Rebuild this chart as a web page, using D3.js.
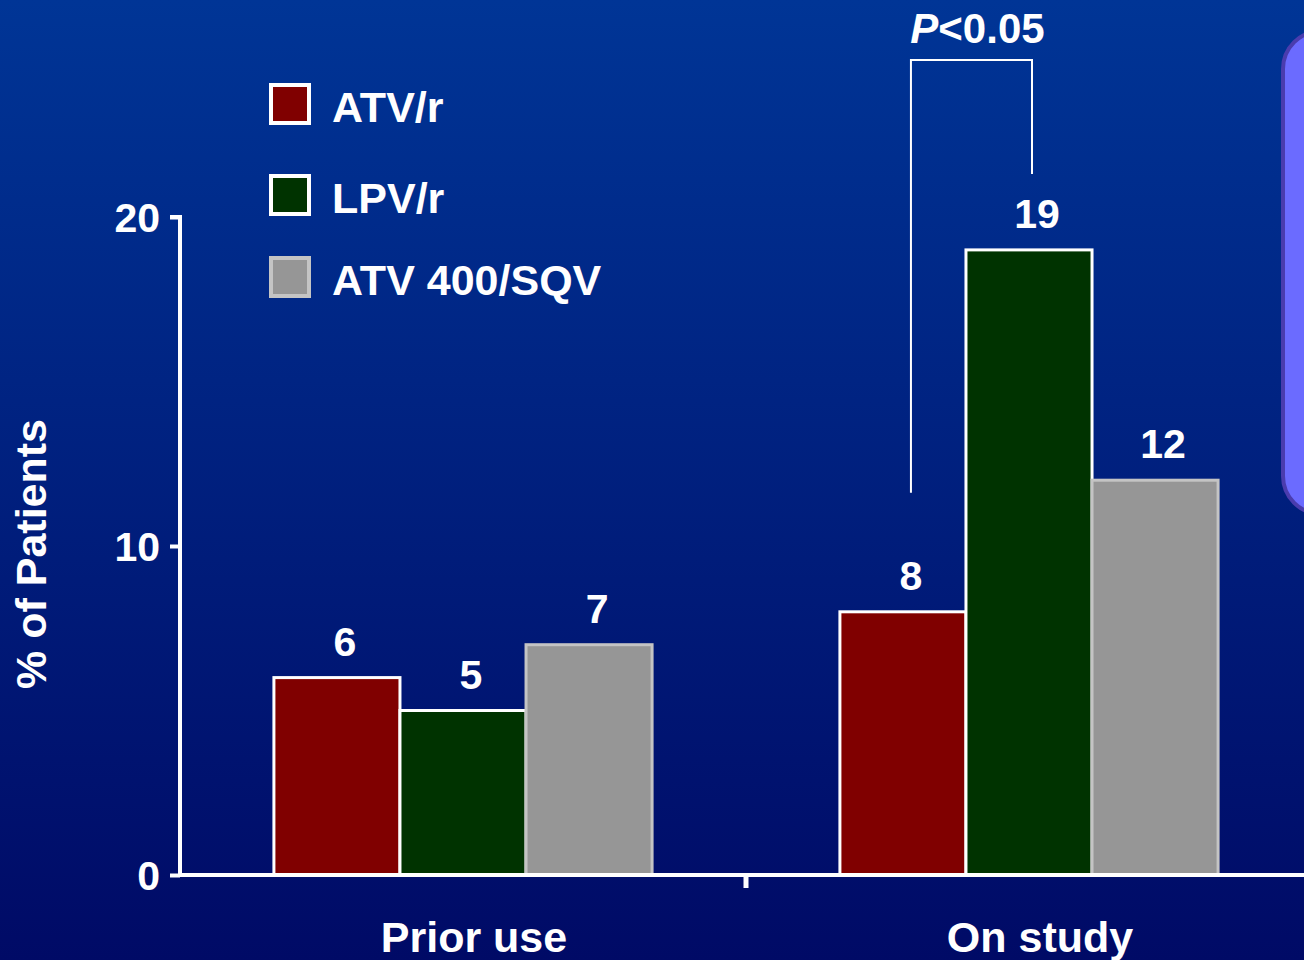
<!DOCTYPE html>
<html>
<head>
<meta charset="utf-8">
<script src="https://cdn.jsdelivr.net/npm/d3@7"></script>
<style>
  html, body { margin: 0; padding: 0; background: #000a66; }
  svg { display: block; }
  text { font-family: "Liberation Sans", Arial, sans-serif; font-weight: bold; fill: #ffffff; }
</style>
</head>
<body>
<script>
// Categories, series and values
const categories = ["Prior use", "On study"];
const series = ["ATV/r", "LPV/r", "ATV 400/SQV"];
const priorUse = [6, 5, 7];
const onStudy = [8, 19, 12];
const yTicks = [0, 10, 20];
const pLabel = "<0.05";

const W = 1304, H = 960;
const fills = ["#800000", "#003300", "#969696"];
const strokes = ["#ffffff", "#ffffff", "#c4c4c4"];

const svg = d3.select("body").append("svg").attr("width", W).attr("height", H);

// Background gradient
const defs = svg.append("defs");
const grad = defs.append("linearGradient").attr("id", "bg").attr("x1", 0).attr("y1", 0).attr("x2", 0).attr("y2", 1);
grad.append("stop").attr("offset", "0%").attr("stop-color", "#003596");
grad.append("stop").attr("offset", "100%").attr("stop-color", "#000a66");
svg.append("rect").attr("width", W).attr("height", H).attr("fill", "url(#bg)");

// Side panel
svg.append("rect")
  .attr("x", 1283).attr("y", 31).attr("width", 80).attr("height", 483)
  .attr("rx", 38).attr("ry", 38)
  .attr("fill", "#6b6bff").attr("stroke", "#4a3cae").attr("stroke-width", 4);

// Scales
const x0 = d3.scaleBand().domain(categories).range([180, 1312]).paddingInner(0).paddingOuter(0);
const x1 = d3.scaleBand().domain(series).range([0, x0.bandwidth()]).paddingInner(0).paddingOuter(0.745);
const y = d3.scaleLinear().domain([0, 20]).range([875, 217]);

const data = categories.map((c, i) => ({
  category: c,
  values: series.map((s, j) => ({ series: s, idx: j, value: (i === 0 ? priorUse : onStudy)[j] }))
}));

// Bars
const groups = svg.append("g").selectAll("g").data(data).join("g")
  .attr("transform", d => `translate(${x0(d.category)},0)`);

groups.selectAll("rect").data(d => d.values).join("rect")
  .attr("x", d => x1(d.series))
  .attr("y", d => y(d.value))
  .attr("width", x1.bandwidth())
  .attr("height", d => y(0) - y(d.value))
  .attr("fill", d => fills[d.idx])
  .attr("stroke", d => strokes[d.idx])
  .attr("stroke-width", 3);

// Value labels
groups.selectAll("text.val").data(d => d.values).join("text")
  .attr("class", "val")
  .attr("x", d => x1(d.series) + x1.bandwidth() / 2 + 8)
  .attr("y", d => y(d.value) - 22)
  .attr("text-anchor", "middle")
  .style("font-size", "41px")
  .text(d => d.value);

// Y axis
const yAxis = svg.append("g").attr("transform", "translate(180,0)")
  .call(d3.axisLeft(y).tickValues(yTicks).tickSize(10).tickPadding(10));
yAxis.select(".domain").attr("stroke", "#fff").attr("stroke-width", 4)
  .attr("d", `M-10,${y(20)}H0V${y(0)}`);
yAxis.selectAll(".tick line").attr("stroke", "#fff").attr("stroke-width", 4);
yAxis.selectAll(".tick text").attr("fill", "#fff")
  .style("font-size", "41px").style("font-family", "'Liberation Sans', Arial, sans-serif")
  .style("font-weight", "bold").attr("dy", "0.36em");

// X axis
const xAxis = svg.append("g").attr("transform", `translate(0,${y(0)})`)
  .call(d3.axisBottom(x0).tickSize(0).tickPadding(46));
xAxis.select(".domain").attr("stroke", "#fff").attr("stroke-width", 4)
  .attr("d", `M178,0H${W + 10}`);
xAxis.selectAll(".tick text").attr("fill", "#fff").attr("dx", 11)
  .style("font-size", "43px").style("font-family", "'Liberation Sans', Arial, sans-serif")
  .style("font-weight", "bold");
// Divider tick between the two groups
svg.append("line")
  .attr("x1", x0("On study")).attr("x2", x0("On study"))
  .attr("y1", y(0)).attr("y2", y(0) + 13)
  .attr("stroke", "#fff").attr("stroke-width", 5);

// Y axis title
svg.append("text")
  .attr("transform", `translate(46,${(y(0) + y(20)) / 2 + 8}) rotate(-90)`)
  .attr("text-anchor", "middle")
  .style("font-size", "43px")
  .text("% of Patients");

// Legend
const legend = svg.append("g").selectAll("g").data(series).join("g")
  .attr("transform", (d, i) => `translate(271,${[85, 176, 258][i]})`);
legend.append("rect")
  .attr("width", 38).attr("height", 38)
  .attr("fill", (d, i) => fills[i])
  .attr("stroke", (d, i) => strokes[i])
  .attr("stroke-width", 4);
legend.append("text")
  .attr("x", 61).attr("y", 37)
  .style("font-size", "43px")
  .text(d => d);

// Significance bracket between ATV/r and LPV/r on study
const bx1 = x0("On study") + x1("ATV/r") + x1.bandwidth() / 2 + 8;
const bx2 = x0("On study") + x1("LPV/r") + x1.bandwidth() / 2 + 3;
const bTop = 60;
svg.append("path")
  .attr("d", `M${bx1},${y(onStudy[0]) - 119}V${bTop}H${bx2}V${y(onStudy[1]) - 76}`)
  .attr("fill", "none").attr("stroke", "#fff").attr("stroke-width", 2);

const pText = svg.append("text")
  .attr("x", (bx1 + bx2) / 2 + 6).attr("y", 43)
  .attr("text-anchor", "middle")
  .style("font-size", "42px");
pText.append("tspan").style("font-style", "italic").text("P");
pText.append("tspan").text(pLabel);
</script>
</body>
</html>
